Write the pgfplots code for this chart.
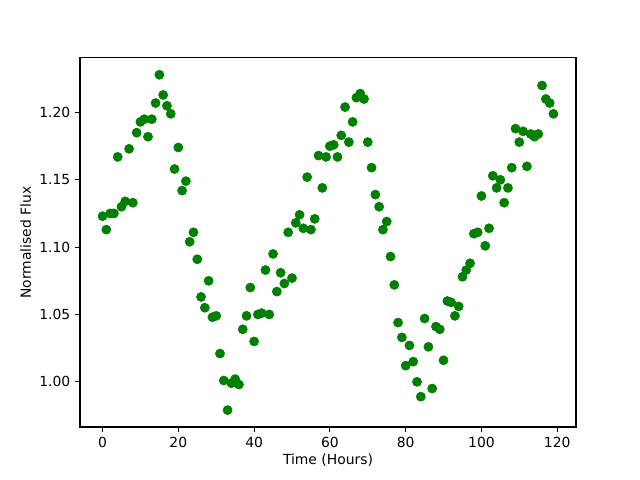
\documentclass[border=0pt]{standalone}
\usepackage{pgfplots}
\pgfplotsset{compat=1.18}
\usepackage{fontspec}
\setmainfont{DejaVu Sans}
\definecolor{mplgreen}{HTML}{008000}
\begin{document}
\begin{tikzpicture}
\path[use as bounding box] (-57.6pt,-38.16pt) rectangle (403.2pt,307.4pt);
\begin{axis}[
  at={(0,0)}, anchor=south west,
  scale only axis, width=357.1pt, height=265.7pt,
  xmin=-5.95, xmax=124.95, ymin=0.9665, ymax=1.2405,
  xtick={0,20,40,60,80,100,120},
  ytick={1.00,1.05,1.10,1.15,1.20},
  yticklabel style={/pgf/number format/.cd, fixed, fixed zerofill, precision=2},
  /pgf/number format/assume math mode=true,
  tick label style={font=\fontsize{10}{12}\selectfont},
  label style={font=\fontsize{10}{12}\selectfont},
  xlabel={Time (Hours)}, ylabel={Normalised Flux},
  tick align=outside, xtick pos=bottom, ytick pos=left,
  major tick length=3.5pt,
  every tick/.style={black, line width=0.8pt},
  axis line style={line width=0.8pt},
  xlabel style={yshift=2pt},
  ylabel style={yshift=-1pt},
]
\addplot[only marks, mark=*, mark size=3.3pt, mplgreen, mark options={draw=mplgreen, fill=mplgreen}] coordinates {
(0,1.123) (1,1.113) (2,1.125) (3,1.125) (4,1.167) (5,1.130) (6,1.134) (7,1.173) (8,1.133) (9,1.185)
(10,1.193) (11,1.195) (12,1.182) (13,1.195) (14,1.207) (15,1.228) (16,1.213) (17,1.205) (18,1.199) (19,1.158)
(20,1.174) (21,1.142) (22,1.149) (23,1.104) (24,1.111) (25,1.091) (26,1.063) (27,1.055) (28,1.075) (29,1.048)
(30,1.049) (31,1.021) (32,1.001) (33,0.979) (34,0.999) (35,1.002) (36,0.998) (37,1.039) (38,1.049) (39,1.070)
(40,1.030) (41,1.050) (42,1.051) (43,1.083) (44,1.050) (45,1.095) (46,1.067) (47,1.081) (48,1.073) (49,1.111)
(50,1.077) (51,1.118) (52,1.124) (53,1.114) (54,1.152) (55,1.113) (56,1.121) (57,1.168) (58,1.144) (59,1.167)
(60,1.175) (61,1.176) (62,1.167) (63,1.183) (64,1.204) (65,1.178) (66,1.193) (67,1.211) (68,1.214) (69,1.210)
(70,1.178) (71,1.159) (72,1.139) (73,1.130) (74,1.113) (75,1.119) (76,1.093) (77,1.072) (78,1.044) (79,1.033)
(80,1.012) (81,1.027) (82,1.015) (83,1.000) (84,0.989) (85,1.047) (86,1.026) (87,0.995) (88,1.041) (89,1.039)
(90,1.016) (91,1.060) (92,1.059) (93,1.049) (94,1.056) (95,1.078) (96,1.083) (97,1.088) (98,1.110) (99,1.111)
(100,1.138) (101,1.101) (102,1.114) (103,1.153) (104,1.144) (105,1.150) (106,1.133) (107,1.144) (108,1.159) (109,1.188)
(110,1.178) (111,1.186) (112,1.160) (113,1.184) (114,1.182) (115,1.184) (116,1.220) (117,1.210) (118,1.207) (119,1.199)
};
\end{axis}
\end{tikzpicture}
\end{document}
